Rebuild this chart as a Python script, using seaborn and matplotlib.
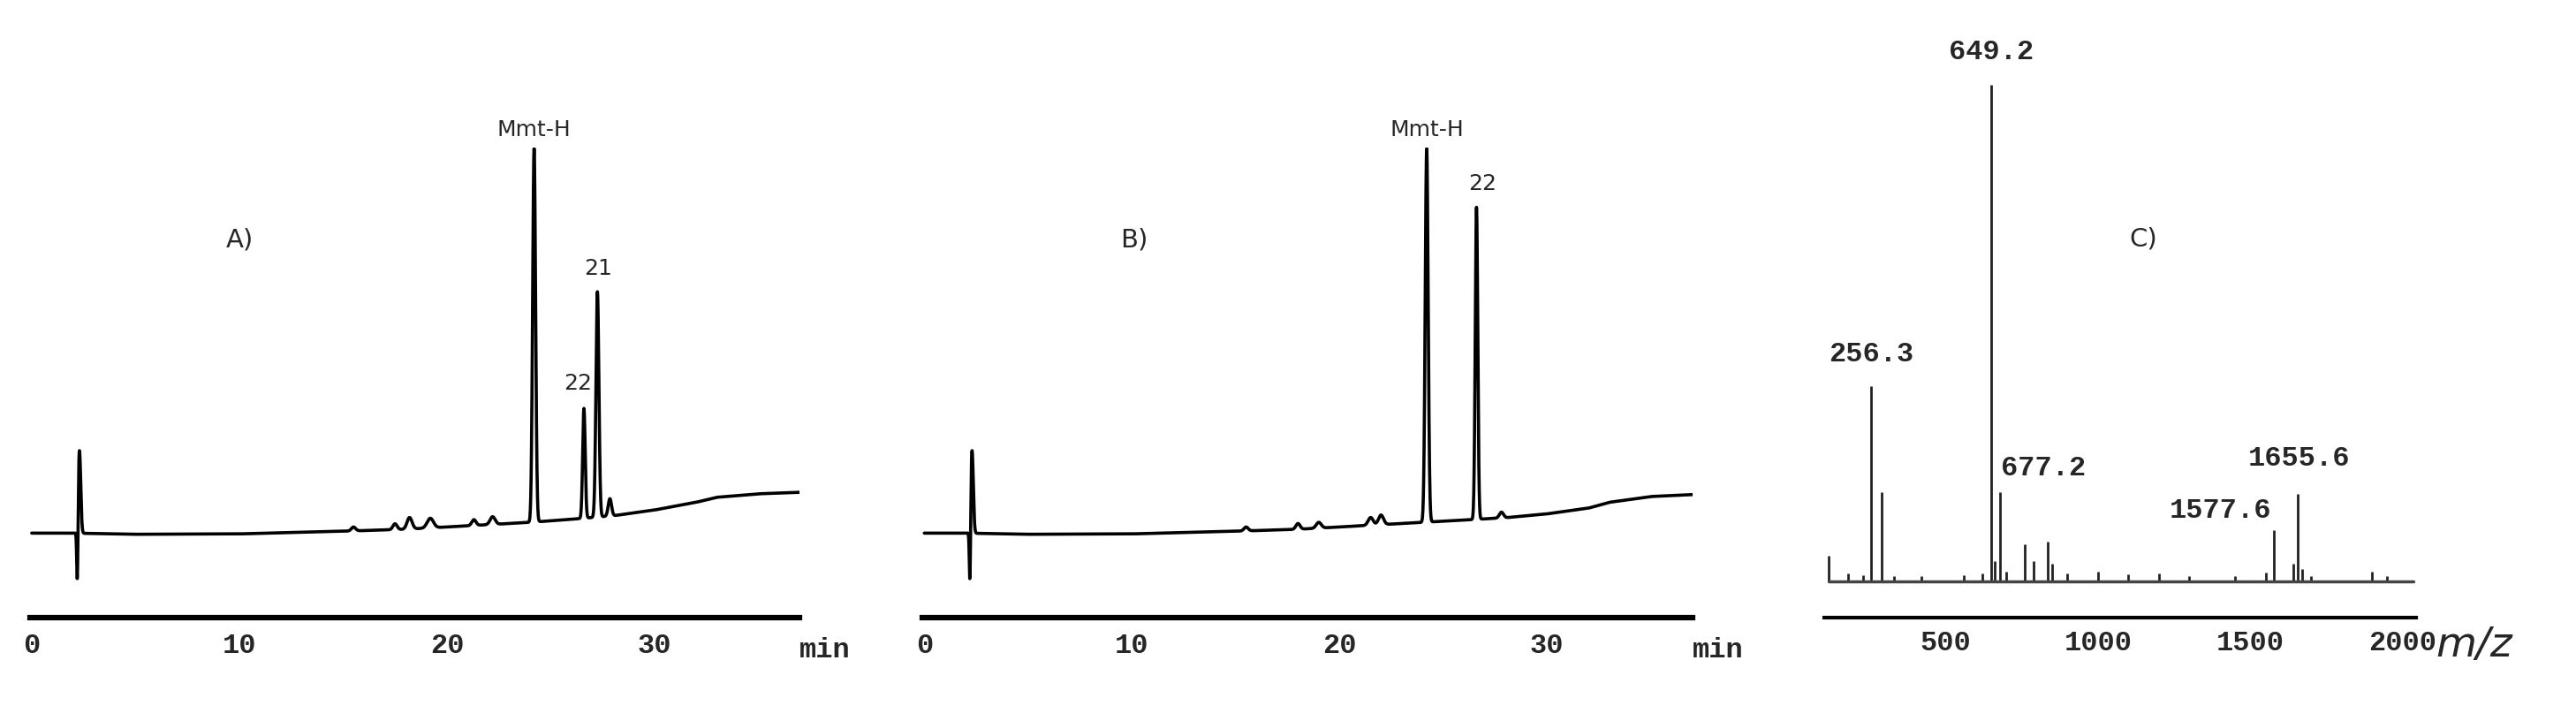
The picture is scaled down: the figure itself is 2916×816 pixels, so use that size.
import numpy as np
import pandas as pd
import matplotlib
matplotlib.use("Agg")
import matplotlib.pyplot as plt
import seaborn as sns

# ---- data ----
# baseline (time min, level; Mmt-H peak = 100)
base_t = [0.0, 2.0, 5, 10, 15, 18, 20, 22, 24, 26, 28, 30, 32, 33, 35, 37.0]
base_A = [0.0, 0.0, -0.3, -0.2, 0.5, 1.0, 1.6, 2.2, 2.8, 3.6, 4.5, 6.0, 8.0, 9.3, 10.2, 10.6]
base_B = [0.0, 0.0, -0.3, -0.2, 0.5, 1.0, 1.6, 2.2, 2.8, 3.4, 4.0, 5.0, 6.5, 8.0, 9.5, 10.0]
# peaks: position (min), height, width (min)
peaks_A_t = [2.3, 15.5, 17.5, 18.2, 19.2, 21.3, 22.2, 24.2, 26.6, 27.25, 27.85]
peaks_A_h = [21.5, 1.0, 1.5, 3.0, 2.5, 1.5, 2.0, 97.0, 28.5, 58.5, 4.5]
peaks_A_w = [0.06, 0.1, 0.1, 0.12, 0.15, 0.1, 0.12, 0.07, 0.06, 0.07, 0.08]
peaks_B_t = [2.3, 15.5, 18.0, 19.0, 21.5, 22.0, 24.2, 26.6, 27.8]
peaks_B_h = [21.5, 1.0, 1.5, 1.5, 2.0, 2.5, 97.0, 81.0, 1.5]
peaks_B_w = [0.06, 0.1, 0.1, 0.12, 0.12, 0.12, 0.07, 0.06, 0.1]
dip_t, dip_h = 2.2, -16.7

labels_A = ["Mmt-H", "22", "21"]
labels_A_x = [24.2, 26.3, 27.3]
labels_A_y = [102, 36, 66]
labels_B = ["Mmt-H", "22"]
labels_B_x = [24.2, 26.9]
labels_B_y = [102, 88]

ms_mz = [115, 180, 230, 256.3, 290, 330, 420, 560, 620, 649.2, 660, 677.2, 700, 760, 790, 835, 850,
         900, 1000, 1100, 1200, 1300, 1450, 1550, 1577.6, 1640, 1655.6, 1670, 1700, 1900, 1950]
ms_int = [5.1, 1.5, 1.2, 39.4, 17.9, 1.0, 1.0, 1.2, 1.5, 100, 4.0, 17.9, 2.0, 7.4, 4.0, 7.9, 3.5,
          1.5, 2.0, 1.3, 1.5, 1.0, 1.0, 1.8, 10.2, 3.5, 17.6, 2.5, 1.0, 2.0, 1.0]
ms_labels = ["649.2", "256.3", "677.2", "1577.6", "1655.6"]
ms_lab_x = [649.2, 256.3, 680, 1570, 1660]
ms_lab_y = [104, 43, 20, 11.5, 22]
ms_lab_ha = ["center", "center", "left", "right", "center"]

time_ticks = [0, 5, 10, 15, 20, 25, 30, 35]
time_ticklabels = ["0", "", "10", "", "20", "", "30", ""]
mz_ticks = [500, 1000, 1500, 2000]

# ---- build traces ----
t = np.linspace(0, 37, 6000)

def trace(bt, bl, pt, ph, pw):
    y = np.interp(t, bt, bl)
    for p, h, w in zip(pt, ph, pw):
        y = y + h * np.exp(-0.5 * ((t - p) / w) ** 2)
    y = y + dip_h * np.exp(-0.5 * ((t - dip_t) / 0.03) ** 2)
    return y

yA = trace(base_t, base_A, peaks_A_t, peaks_A_h, peaks_A_w)
yB = trace(base_t, base_B, peaks_B_t, peaks_B_h, peaks_B_w)

sns.set_style("white")
plt.rcParams['font.family'] = ['DejaVu Sans']
mono = {'family': 'Liberation Mono', 'weight': 'bold'}

fig = plt.figure(figsize=(29.16, 8.16), dpi=100)

def chrom(ax, y, labs, lx, ly, tag, tagx):
    sns.lineplot(x=t, y=y, ax=ax, color='black', linewidth=2.6)
    ax.set_xlim(-0.1, 37.0)
    ax.set_ylim(-22, 100)
    for s in ['top', 'right', 'left']:
        ax.spines[s].set_visible(False)
    ax.spines['bottom'].set_linewidth(4.5)
    ax.spines['bottom'].set_color('black')
    ax.set_yticks([])
    ax.set_xticks(time_ticks)
    ax.set_xticklabels(time_ticklabels, fontdict=mono, fontsize=23)
    ax.tick_params(axis='x', direction='in', length=9, width=2.5, pad=12)
    ax.set_xlabel("")
    ax.set_ylabel("")
    for s, x, yy in zip(labs, lx, ly):
        ax.text(x, yy, s, ha='center', va='bottom', fontsize=18, clip_on=False)
    ax.text(tagx, 76, tag, fontsize=21, ha='center', va='center')
    ax.text(37.0, -27, "min", fontdict=mono, fontsize=23, ha='left', va='top')
    ax.patch.set_alpha(0)

axA = fig.add_axes([0.0115, 0.143, 0.299, 0.652])
chrom(axA, yA, labels_A, labels_A_x, labels_A_y, "A)", 10.0)

axB = fig.add_axes([0.358, 0.143, 0.299, 0.652])
chrom(axB, yB, labels_B, labels_B_x, labels_B_y, "B)", 10.1)

axC = fig.add_axes([0.708, 0.143, 0.23, 0.739])
df = pd.DataFrame({'mz': ms_mz, 'i': ms_int})
axC.vlines(df['mz'], 0, df['i'], color='#222222', linewidth=2)
sns.lineplot(x=[115, 2035], y=[0, 0], ax=axC, color='#444444', linewidth=2.5)
axC.set_xlim(100, 2045)
axC.set_ylim(-7.4, 100)
for s in ['top', 'right', 'left']:
    axC.spines[s].set_visible(False)
axC.spines['bottom'].set_linewidth(3)
axC.spines['bottom'].set_color('black')
axC.set_yticks([])
axC.set_xticks(mz_ticks)
axC.set_xticklabels([str(v) for v in mz_ticks], fontdict=mono, fontsize=23)
axC.tick_params(axis='x', direction='in', length=5, width=1.5, pad=10)
for s, x, yy, ha in zip(ms_labels, ms_lab_x, ms_lab_y, ms_lab_ha):
    axC.text(x, yy, s, fontdict=mono, fontsize=23, ha=ha, va='bottom', clip_on=False)
axC.text(1149, 69, "C)", fontsize=21, ha='center', va='center')
axC.text(2110, -9, "m/z", fontsize=34, style='italic', ha='left', va='top', clip_on=False)
axC.patch.set_alpha(0)

fig.savefig("out.png", dpi=100)
